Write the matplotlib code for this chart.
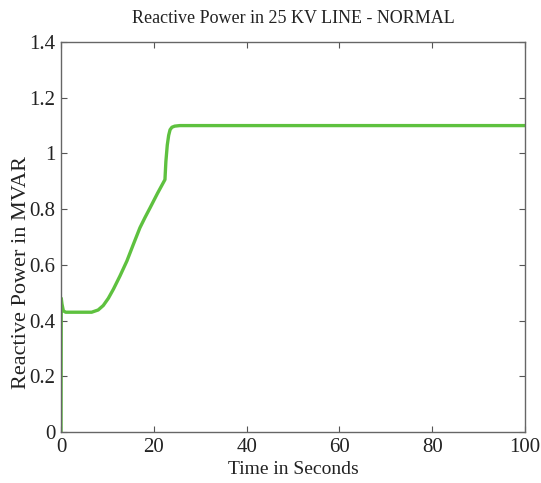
import matplotlib
matplotlib.use("Agg")
import matplotlib.pyplot as plt

# time (s) and reactive power (MVAR)
time_s = [0, 0.05, 0.2, 0.5, 1.0, 6.6, 8.0, 9.1, 10.2, 11.3, 12.7, 14.2, 15.6,
          17.0, 18.1, 19.2, 20.8, 22.4, 22.6, 22.9, 23.2, 23.5, 23.9, 24.5,
          25.6, 40, 60, 80, 100]
qvar = [0.0, 0.48, 0.46, 0.435, 0.43, 0.43, 0.438, 0.454, 0.48, 0.513, 0.56,
        0.614, 0.674, 0.733, 0.77, 0.805, 0.857, 0.906, 0.971, 1.03, 1.065,
        1.085, 1.094, 1.098, 1.1, 1.1, 1.1, 1.1, 1.1]

xticks = [0, 20, 40, 60, 80, 100]
yticks = [0, 0.2, 0.4, 0.6, 0.8, 1, 1.2, 1.4]
yticklabels = ["0", "0.2", "0.4", "0.6", "0.8", "1", "1.2", "1.4"]

plt.rcParams['font.family'] = ['Liberation Serif', 'DejaVu Serif']

fig = plt.figure(figsize=(5.41, 4.83), dpi=100)
ax = fig.add_axes([0.1128, 0.1056, 0.8576, 0.8074])

ax.plot(time_s, qvar, color='#5ec13f', linewidth=2.4)

ax.set_xlim(0, 100)
ax.set_ylim(0, 1.4)
ax.set_xticks(xticks)
ax.set_yticks(yticks)
ax.set_yticklabels(yticklabels)
ax.tick_params(direction='in', top=True, right=True, length=4, width=0.8,
               colors='#555555', labelcolor='#222222', labelsize=15, pad=4)
for s in ax.spines.values():
    s.set_color('#666666')
    s.set_linewidth(1.0)

ax.set_xlabel('Time in Seconds', fontsize=14, color='#222222', labelpad=3)
ax.set_ylabel('Reactive Power in MVAR', fontsize=16, color='#222222')
ax.yaxis.set_label_coords(-0.064, 0.41)
ax.set_title('Reactive Power in 25 KV LINE - NORMAL', fontsize=13,
             color='#222222', pad=14)

fig.savefig('out.png', dpi=100)
